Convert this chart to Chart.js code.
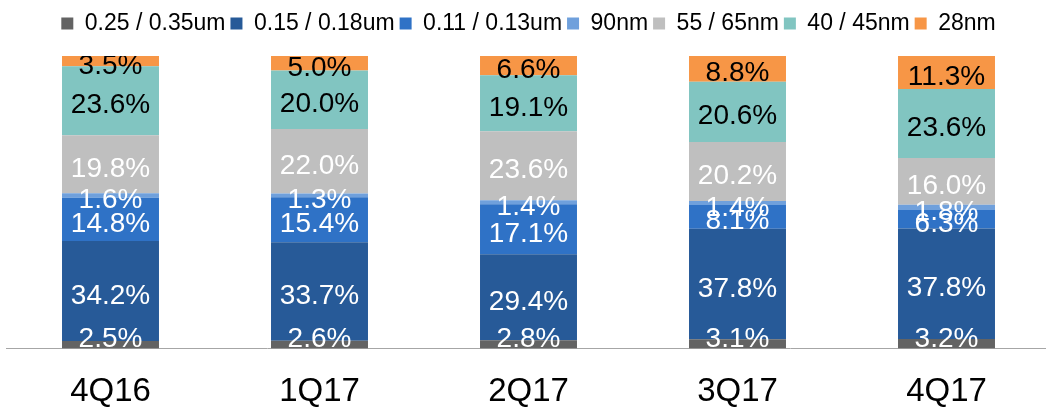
<!DOCTYPE html>
<html>
<head>
<meta charset="utf-8">
<script src="https://cdn.jsdelivr.net/npm/chart.js@4/dist/chart.umd.min.js"></script>
<style>
  html, body { margin: 0; padding: 0; background: #fff; overflow: hidden; width: 1046px; height: 412px; }
  #wrap { width: 1051px; height: 436px; }
</style>
</head>
<body>
<div id="wrap"><canvas id="nodeChart"></canvas></div>
<script>
const quarters = ['4Q16', '1Q17', '2Q17', '3Q17', '4Q17']

const node025 = [2.5, 2.6, 2.8, 3.1, 3.2]
const node015 = [34.2, 33.7, 29.4, 37.8, 37.8]
const node011 = [14.8, 15.4, 17.1, 8.1, 6.3]
const node90 = [1.6, 1.3, 1.4, 1.4, 1.8]
const node55 = [19.8, 22.0, 23.6, 20.2, 16.0]
const node40 = [23.6, 20.0, 19.1, 20.6, 23.6]
const node28 = [3.5, 5.0, 6.6, 8.8, 11.3]

const FONT = "'Liberation Sans', Arial, sans-serif"

// series: label, values, fill colour, label text colour
const series = [
    ['0.25 / 0.35um', node025, '#636363', '#ffffff'],
    ['0.15 / 0.18um', node015, '#275a98', '#ffffff'],
    ['0.11 / 0.13um', node011, '#2f72c6', '#ffffff'],
    ['90nm', node90, '#6fa0dc', '#ffffff'],
    ['55 / 65nm', node55, '#bfbfbf', '#ffffff'],
    ['40 / 45nm', node40, '#81c5c1', '#000000'],
    ['28nm', node28, '#f79646', '#000000']
]

// extra room under the legend
const legendGap = {
    id: 'legendGap',
    beforeInit(chart) {
        const fit = chart.legend.fit
        chart.legend.fit = function () {
            fit.bind(chart.legend)()
            this.height += 11
        }
    }
}

// percent labels in the middle of each segment
const segmentLabels = {
    id: 'segmentLabels',
    afterDatasetsDraw(chart) {
        const { ctx, chartArea } = chart
        ctx.save()
        ctx.beginPath()
        ctx.rect(chartArea.left, chartArea.top, chartArea.right - chartArea.left, chartArea.bottom - chartArea.top)
        ctx.clip()
        ctx.font = '28px ' + FONT
        ctx.textAlign = 'center'
        ctx.textBaseline = 'alphabetic'
        chart.data.datasets.forEach((ds, i) => {
            const meta = chart.getDatasetMeta(i)
            meta.data.forEach((bar, j) => {
                const mid = (bar.y + bar.base) / 2
                const y = Math.min(mid + 12.5, chartArea.bottom - 1)
                ctx.fillStyle = ds.textColor
                ctx.fillText(ds.data[j].toFixed(1) + '%', bar.x, y)
            })
        })
        ctx.restore()
    }
}

new Chart(document.getElementById('nodeChart'), {
    type: 'bar',
    data: {
        labels: quarters,
        datasets: series.map(s => ({
            label: s[0],
            data: s[1],
            backgroundColor: s[2],
            textColor: s[3],
            borderWidth: 0,
            categoryPercentage: 1,
            barPercentage: 0.464
        }))
    },
    options: {
        responsive: true,
        maintainAspectRatio: false,
        animation: false,
        layout: { padding: { left: 6, right: 0, top: 7, bottom: 0 } },
        plugins: {
            legend: {
                position: 'top',
                labels: {
                    font: { family: FONT, size: 23 },
                    color: '#000',
                    boxWidth: 12,
                    boxHeight: 12,
                    padding: 5
                }
            },
            tooltip: { enabled: false }
        },
        scales: {
            x: {
                stacked: true,
                grid: { display: false, drawTicks: false },
                border: { display: true, color: '#a6a6a6', width: 1 },
                ticks: {
                    font: { family: FONT, size: 33 },
                    color: '#000',
                    padding: 24
                }
            },
            y: {
                stacked: true,
                display: false,
                min: 0,
                max: 100
            }
        }
    },
    plugins: [legendGap, segmentLabels]
})
</script>
</body>
</html>
